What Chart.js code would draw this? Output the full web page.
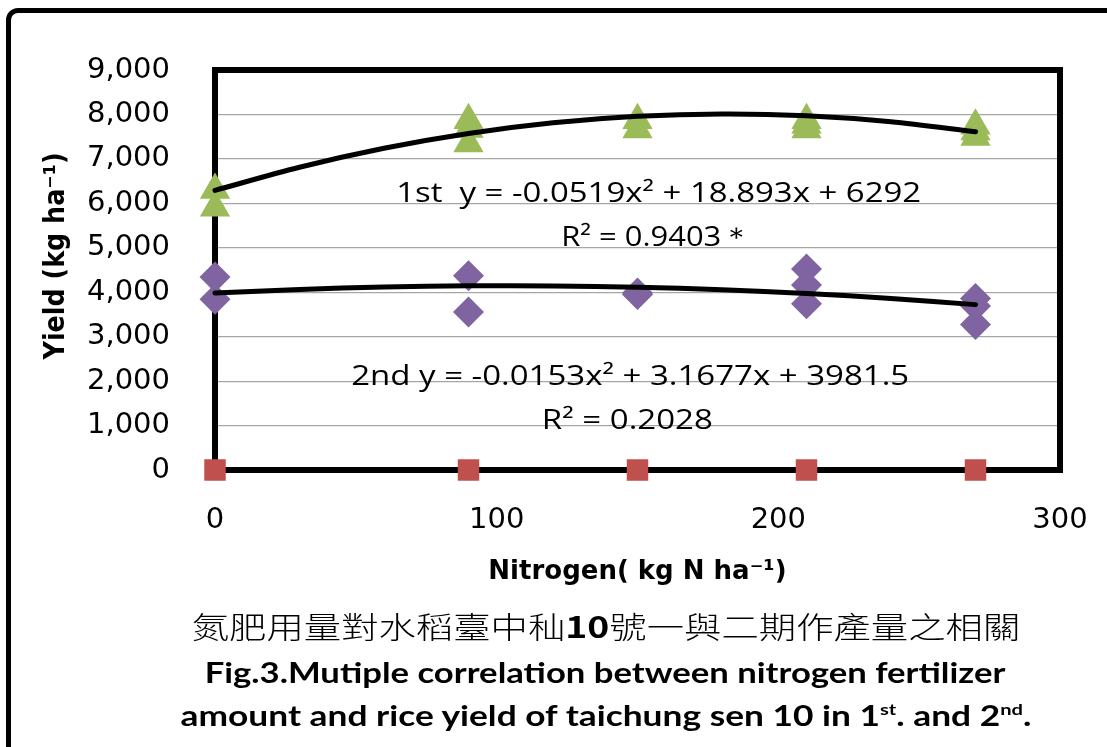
<!DOCTYPE html>
<html>
<head>
<meta charset="utf-8">
<script src="https://cdn.jsdelivr.net/npm/chart.js@4.4.1/dist/chart.umd.min.js"></script>
<style>
  html, body { margin: 0; padding: 0; background: #fff; overflow: hidden; }
  #wrap { position: relative; width: 1107px; height: 747px; overflow: hidden; }
  #frame { position: absolute; left: 6px; top: 8px; width: 1200px; height: 800px; border: 5px solid #000; border-radius: 12px; }
  #chart { position: absolute; left: 0; top: 0; }
  .cap { position: absolute; white-space: nowrap; line-height: 1; color: #000; transform-origin: center top; }
  .zh { font-family: "Noto Sans CJK TC", sans-serif; font-size: 30px; font-weight: 300; }
  .zh b { font-weight: 700; }
  .en { font-family: Lato, sans-serif; font-weight: 700; font-size: 28px; }
  .en sup { font-size: 16px; vertical-align: 11px; }
</style>
</head>
<body>
<div id="wrap">
  <div id="frame"></div>
  <canvas id="chart" width="1107" height="747"></canvas>
  <div class="cap zh" data-w="828" style="left:606px; top:610px;">氮肥用量對水稻臺中秈<b>10</b>號一與二期作產量之相關</div>
  <div class="cap en" data-w="801" style="left:605px; top:658px;">Fig.3.Mutiple correlation between nitrogen fertilizer</div>
  <div class="cap en" data-w="851" style="left:606px; top:701px;">amount and rice yield of taichung sen 10 in 1<sup>st</sup>. and 2<sup>nd</sup>.</div>
</div>
<script>
// nitrogen rate (kg N/ha) and yields (kg/ha)
const nitrogenLevels = [0, 90, 150, 210, 270];
const firstCropN = [0, 0, 90, 90, 90, 150, 150, 210, 210, 210, 270, 270, 270];
const firstCropYield = [6300, 5900, 7870, 7670, 7345, 7870, 7660, 7870, 7770, 7660, 7745, 7615, 7490];
const secondCropN = [0, 0, 90, 90, 150, 150, 210, 210, 210, 270, 270, 270];
const secondCropYield = [4340, 3840, 4370, 3555, 3980, 3950, 4525, 4160, 3740, 3860, 3690, 3275];
const baseYield = [0, 0, 0, 0, 0];

// trend curves as traced on the figure
const trendN = [0, 30, 60, 90, 120, 150, 180, 210, 240, 270];
const firstTrend = [6292, 6812, 7239, 7572, 7812, 7958, 8011, 7971, 7837, 7610];
const secondTrend = [3982, 4063, 4116, 4143, 4141, 4112, 4056, 3972, 3860, 3721];

const xTicks = [0, 100, 200, 300];
const yTicks = [0, 1000, 2000, 3000, 4000, 5000, 6000, 7000, 8000, 9000];

const yTitle = 'Yield (kg ha⁻¹)';

// equation labels: text, anchor (data units), width on the figure
const equationLabels = [
  { text: '1st  y = -0.0519x² + 18.893x + 6292', x: 157.5, y: 6037, w: 525 },
  { text: 'R² = 0.9403＊', x: 156.8, y: 5040, w: 191 },
  { text: '2nd y = -0.0153x² + 3.1677x + 3981.5', x: 147.4, y: 1913, w: 558 },
  { text: 'R² = 0.2028', x: 146.4, y: 923, w: 171 }
];

const toPoints = (xs, ys) => xs.map((x, i) => ({ x: x, y: ys[i] }));

// thick plot frame, under the markers
const framePlugin = {
  id: 'frame',
  beforeDatasetsDraw(chart) {
    const { ctx, chartArea: a } = chart;
    ctx.save();
    ctx.strokeStyle = '#000';
    ctx.lineWidth = 6;
    ctx.strokeRect(a.left, a.top, a.right - a.left, a.bottom - a.top);
    ctx.restore();
  }
};

const labelPlugin = {
  id: 'eqLabels',
  afterDatasetsDraw(chart) {
    const { ctx, scales } = chart;
    ctx.save();
    ctx.fillStyle = '#000';
    ctx.font = '27px "Open Sans"';
    ctx.textAlign = 'center';
    ctx.textBaseline = 'alphabetic';
    equationLabels.forEach(l => {
      const px = scales.x.getPixelForValue(l.x);
      const py = scales.y.getPixelForValue(l.y);
      const sx = l.w / ctx.measureText(l.text).width;
      ctx.save();
      ctx.translate(px, py);
      ctx.scale(sx, 1);
      ctx.fillText(l.text, 0, 0);
      ctx.restore();
    });

    // y axis title, a little above the middle of the axis as in the figure
    ctx.font = 'bold 26px "DejaVu Sans"';
    ctx.textBaseline = 'middle';
    const len = ctx.measureText(yTitle).width;
    ctx.translate(57, 256);
    ctx.rotate(-Math.PI / 2);
    ctx.scale(207 / len, 1.1);
    ctx.fillText(yTitle, 0, 0);
    ctx.restore();
  }
};

const noEdgePadding = s => { s.paddingLeft = 0; s.paddingRight = 0; s.paddingTop = 0; s.paddingBottom = 0; };

const ctx = document.getElementById('chart').getContext('2d');
const chart = new Chart(ctx, {
  type: 'scatter',
  data: {
    datasets: [
      {
        label: '1st trend',
        data: toPoints(trendN, firstTrend),
        showLine: true,
        borderColor: '#000',
        borderWidth: 5,
        borderCapStyle: 'round',
        pointRadius: 0,
        tension: 0.3,
        clip: false,
        order: 0
      },
      {
        label: '2nd trend',
        data: toPoints(trendN, secondTrend),
        showLine: true,
        borderColor: '#000',
        borderWidth: 5,
        borderCapStyle: 'round',
        pointRadius: 0,
        tension: 0.3,
        clip: false,
        order: 0
      },
      {
        label: '1st',
        data: toPoints(firstCropN, firstCropYield),
        pointStyle: 'triangle',
        pointRadius: 17.5,
        backgroundColor: '#9BBB59',
        borderColor: '#9BBB59',
        borderWidth: 0,
        clip: false,
        order: 1
      },
      {
        label: '2nd',
        data: toPoints(secondCropN, secondCropYield),
        pointStyle: 'rectRot',
        pointRadius: 15.5,
        backgroundColor: '#8064A2',
        borderColor: '#8064A2',
        borderWidth: 0,
        clip: false,
        order: 1
      },
      {
        label: 'base',
        data: toPoints(nitrogenLevels, baseYield),
        pointStyle: 'rect',
        pointRadius: 15.2,
        backgroundColor: '#C0504D',
        borderColor: '#C0504D',
        borderWidth: 0,
        clip: false,
        order: 1
      }
    ]
  },
  options: {
    responsive: false,
    animation: false,
    layout: { padding: { left: 0, top: 70, right: 47, bottom: 157 } },
    plugins: {
      legend: { display: false },
      tooltip: { enabled: false }
    },
    scales: {
      x: {
        type: 'linear',
        min: 0,
        max: 300,
        afterBuildTicks: s => { s.ticks = xTicks.map(v => ({ value: v })); },
        afterFit: s => { s.height = 120; noEdgePadding(s); },
        grid: { display: false, drawTicks: false },
        border: { display: false },
        ticks: {
          padding: 33,
          color: '#000',
          font: { family: 'DejaVu Sans', size: 29 }
        },
        title: {
          display: true,
          text: 'Nitrogen( kg N ha⁻¹)',
          color: '#000',
          padding: { top: 0, bottom: 2 },
          font: { family: 'DejaVu Sans', size: 26, weight: 'bold' }
        }
      },
      y: {
        type: 'linear',
        min: 0,
        max: 9000,
        afterBuildTicks: s => { s.ticks = yTicks.map(v => ({ value: v })); },
        afterFit: s => { s.width = 215; noEdgePadding(s); },
        grid: { color: '#a6a6a6', lineWidth: 1.2, drawTicks: false },
        border: { display: false },
        ticks: {
          padding: 45,
          color: '#000',
          font: { family: 'DejaVu Sans', size: 29 },
          callback: v => v.toLocaleString('en-US')
        }
      }
    }
  },
  plugins: [framePlugin, labelPlugin]
});

// stretch the caption lines to the widths seen on the figure
const fitCaptions = () => {
  document.querySelectorAll('.cap').forEach(el => {
    el.style.transform = 'none';
    const w = el.offsetWidth;
    el.style.transform = `translateX(-50%) scaleX(${el.dataset.w / w})`;
  });
};
fitCaptions();
document.fonts.ready.then(() => { fitCaptions(); chart.draw(); });
</script>
</body>
</html>
